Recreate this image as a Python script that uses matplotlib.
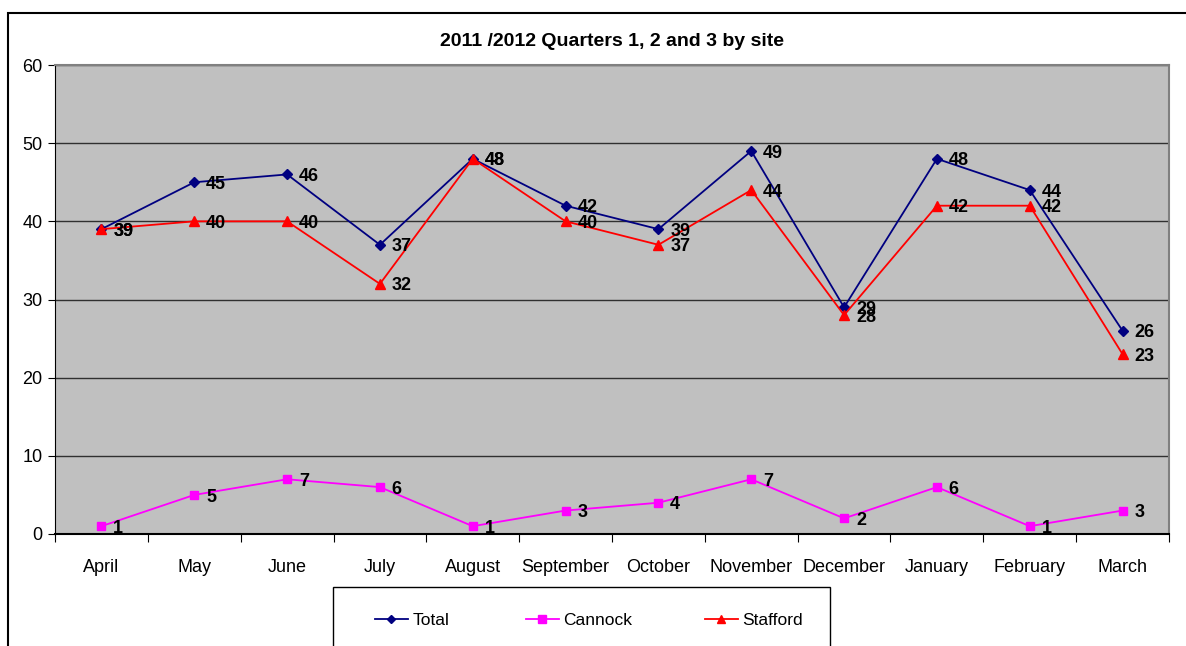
import matplotlib
matplotlib.use("Agg")
import matplotlib.pyplot as plt
from matplotlib.patches import Rectangle
from matplotlib import font_manager

months = ["April", "May", "June", "July", "August", "September", "October",
          "November", "December", "January", "February", "March"]
total = [39, 45, 46, 37, 48, 42, 39, 49, 29, 48, 44, 26]
cannock = [1, 5, 7, 6, 1, 3, 4, 7, 2, 6, 1, 3]
stafford = [39, 40, 40, 32, 48, 40, 37, 44, 28, 42, 42, 23]

names = {f.name for f in font_manager.fontManager.ttflist}
fam = "Liberation Sans Narrow" if "Liberation Sans Narrow" in names else "Liberation Sans"
plt.rcParams["font.family"] = [fam, "DejaVu Sans"]

W, H = 1186, 646
fig = plt.figure(figsize=(W / 100, H / 100), dpi=100)
fig.patch.set_facecolor("white")

# outer chart frame
fig.add_artist(Rectangle((8 / W, -0.1), 1.2, (H - 13) / H + 0.1, transform=fig.transFigure,
                         fill=False, edgecolor="black", linewidth=1.5, zorder=0))

ax = fig.add_axes([55 / W, (H - 534) / H, (1169 - 55) / W, (534 - 65) / H])
ax.set_facecolor("#c0c0c0")
x = list(range(len(months)))

ax.set_xlim(-0.5, len(months) - 0.5)
ax.set_ylim(0, 60)
ax.set_yticks(range(0, 61, 10))
ax.yaxis.grid(True, color="#303030", linewidth=1.0)
ax.set_axisbelow(True)

h_total, = ax.plot(x, total, color="#000080", marker="D", markersize=5, linewidth=1.3, label="Total", zorder=3)
h_cann, = ax.plot(x, cannock, color="#ff00ff", marker="s", markersize=6, linewidth=1.3, label="Cannock", zorder=3)
h_staf, = ax.plot(x, stafford, color="#ff0000", marker="^", markersize=7, linewidth=1.3, label="Stafford", zorder=3)

for series in (total, cannock, stafford):
    for xi, v in zip(x, series):
        ax.annotate(str(v), (xi, v), xytext=(8.5, -1.5), textcoords="offset points",
                    ha="left", va="center", fontsize=13, fontweight="bold", zorder=4)

ax.set_xticks([i + 0.5 for i in range(-1, len(months))], minor=False)
ax.set_xticklabels([])
ax.set_xticks(x, minor=True)
ax.set_xticklabels(months, minor=True, fontsize=13)
ax.tick_params(axis="x", which="minor", length=0, pad=18)
ax.tick_params(axis="x", which="major", length=6, direction="out", color="black")
ax.tick_params(axis="y", labelsize=13, length=5, direction="out", pad=4)

for s in ("top", "right"):
    ax.spines[s].set_color("#808080")
    ax.spines[s].set_linewidth(1.5)
ax.spines["left"].set_color("black")
ax.spines["bottom"].set_color("black")
ax.spines["bottom"].set_linewidth(1.5)

fig.text((55 + 1169) / 2 / W, (H - 42) / H, "2011 /2012 Quarters 1, 2 and 3 by site",
         ha="center", va="center", fontsize=14, fontweight="bold")

# legend box
fig.add_artist(Rectangle((333 / W, -0.1), 497 / W, (H - 587) / H + 0.1, transform=fig.transFigure,
                         facecolor="white", edgecolor="black", linewidth=1.0, zorder=1))
for h, lab, x0 in ((h_total, "Total", 375), (h_cann, "Cannock", 526), (h_staf, "Stafford", 705)):
    lg = fig.legend([h], [lab], loc="center left", bbox_to_anchor=(x0 / W, (H - 620) / H),
                    frameon=False, fontsize=12.5, handlelength=1.9, handletextpad=0.25,
                    borderpad=0, borderaxespad=0, markerscale=0.9)
    lg.set_zorder(2)

fig.savefig("out.png", dpi=100)
